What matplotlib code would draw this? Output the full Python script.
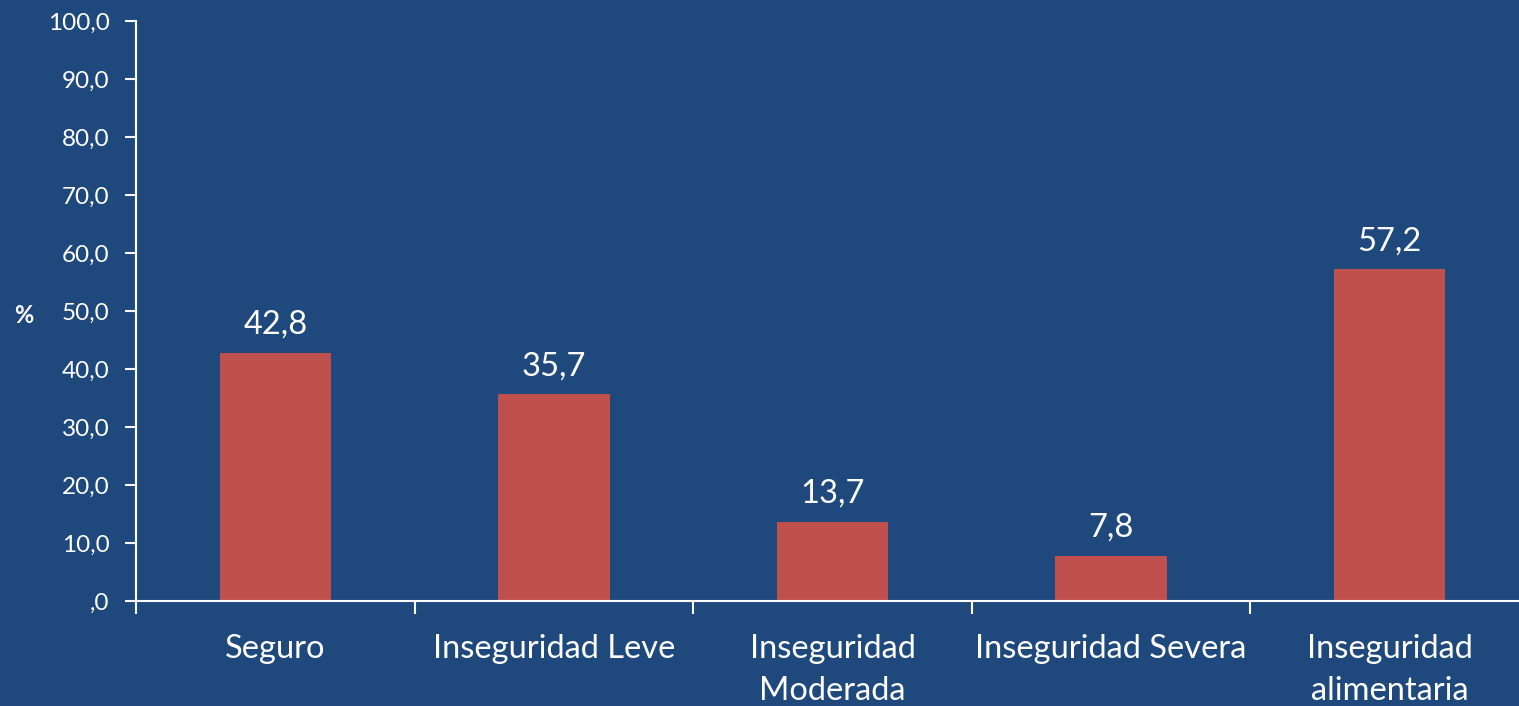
import matplotlib
matplotlib.use("Agg")
import matplotlib.pyplot as plt
import numpy as np

categories = ["Seguro", "Inseguridad Leve", "Inseguridad\nModerada", "Inseguridad Severa", "Inseguridad\nalimentaria"]
values = [42.8, 35.7, 13.7, 7.8, 57.2]
yticks = [0, 10, 20, 30, 40, 50, 60, 70, 80, 90, 100]
ytick_labels = [",0", "10,0", "20,0", "30,0", "40,0", "50,0", "60,0", "70,0", "80,0", "90,0", "100,0"]

BG = "#1F497D"
BAR = "#C0504D"
FONT = ["Lato", "DejaVu Sans"]
plt.rcParams["font.family"] = FONT

W, H = 1519, 706
fig = plt.figure(figsize=(W / 100, H / 100), dpi=100, facecolor=BG)
left, right, bottom, top = 136, 1529, 601, 21
ax = fig.add_axes([left / W, 1 - bottom / H, (right - left) / W, (bottom - top) / H])
ax.set_facecolor(BG)

x = np.arange(len(categories))
ax.bar(x, values, width=0.4, color=BAR, zorder=2)
for xi, v in zip(x, values):
    ax.text(xi, v + 2.2, f"{v:.1f}".replace(".", ","), ha="center", va="bottom",
            color="white", fontsize=23.5)

ax.set_xlim(-0.5, len(categories) - 0.5)
ax.set_ylim(0, 100)
ax.set_yticks(yticks)
ax.set_yticklabels(ytick_labels, color="white", fontsize=17.5)
ax.set_xticks(x)
ax.set_xticklabels(categories, color="white", fontsize=23.5, linespacing=1.5)
ax.tick_params(axis="x", length=0, pad=24)
ax.set_xticks(np.arange(len(categories)) - 0.5, minor=True)
ax.tick_params(axis="x", which="minor", length=9, color="white", width=1.5, direction="out")
ax.tick_params(axis="y", length=8, color="white", width=1.5, direction="out", pad=11)

for s in ["top", "right"]:
    ax.spines[s].set_visible(False)
for s in ["left", "bottom"]:
    ax.spines[s].set_color("white")
    ax.spines[s].set_linewidth(1.5)

fig.text(24 / W, 1 - 315 / H, "%", color="white", fontsize=17, fontweight="bold",
         ha="center", va="center")

fig.savefig("out.png", dpi=100, facecolor=BG)
